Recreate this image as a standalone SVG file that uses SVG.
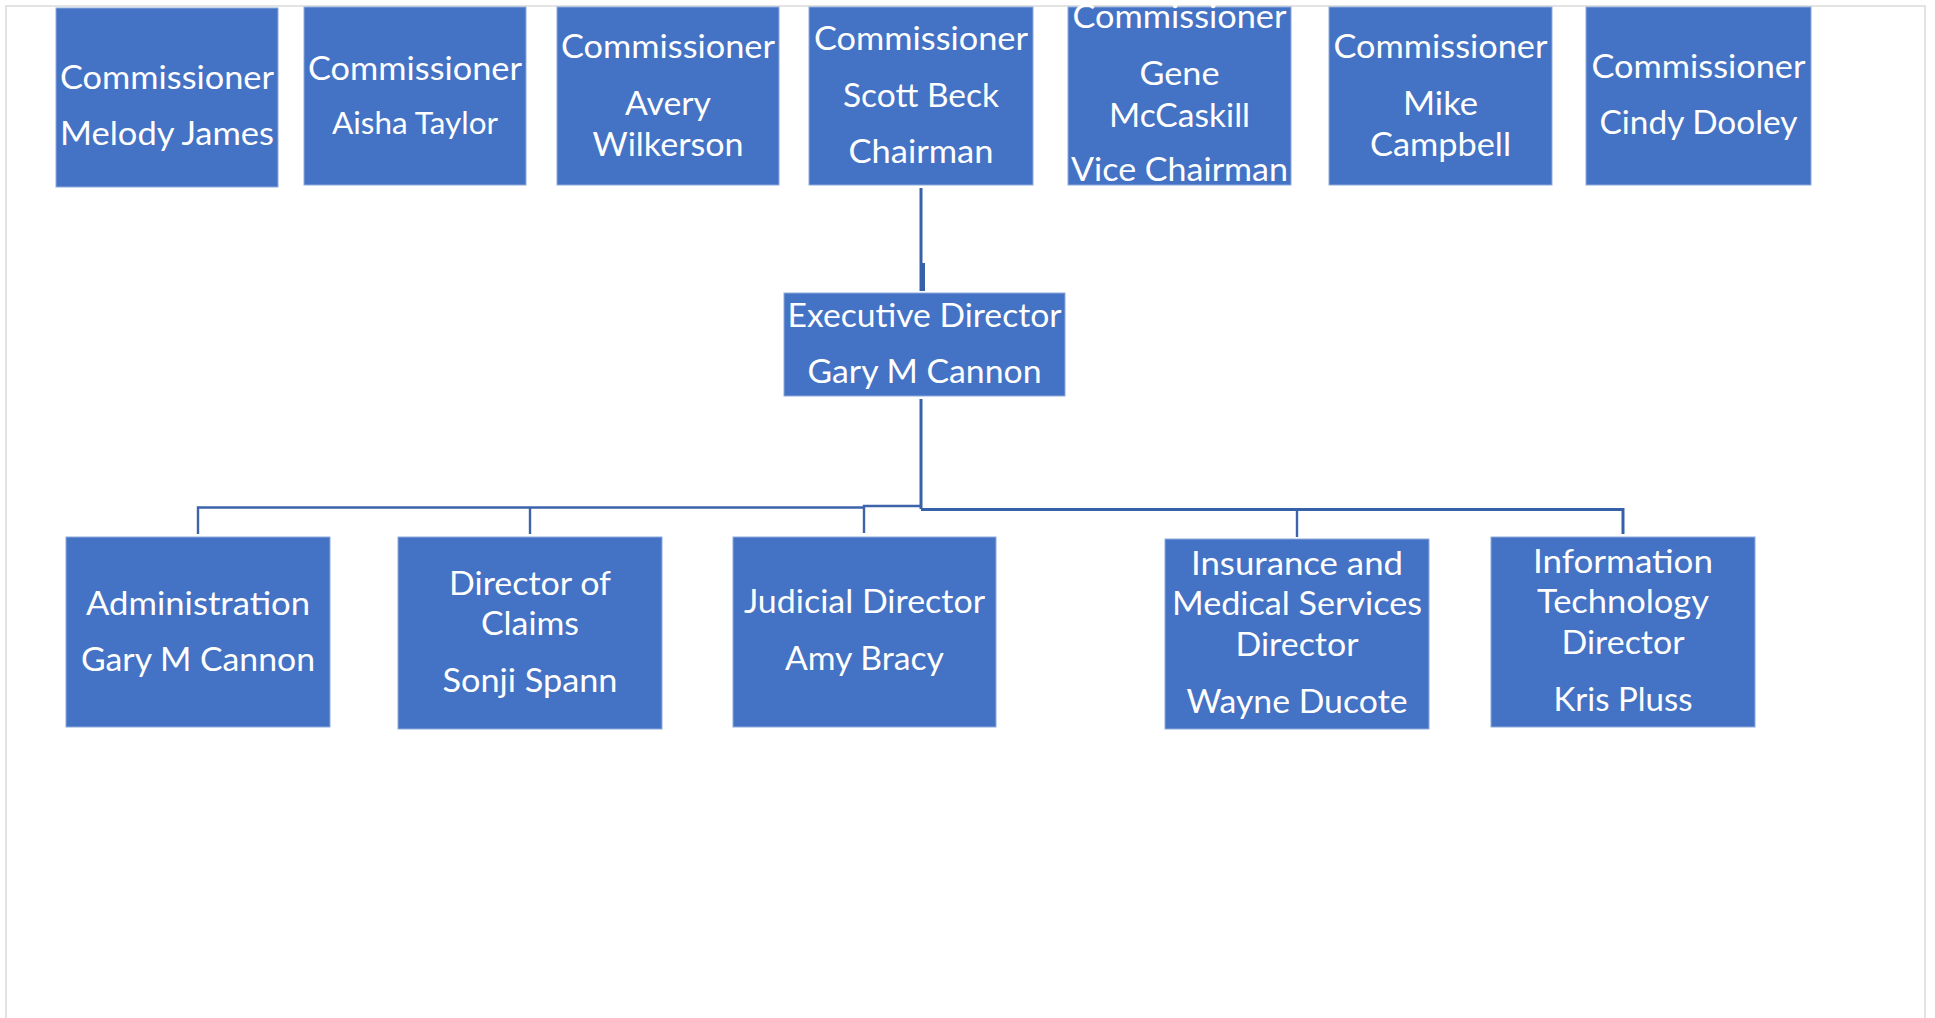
<svg xmlns="http://www.w3.org/2000/svg" width="1935" height="1018" viewBox="0 0 1935 1018">
  <style>
    .box { fill: #4472c4; stroke: #8eaadb; stroke-width: 1; }
    .lbl { fill: #ffffff; font-family: "Lato", "Open Sans", "Liberation Sans", sans-serif; font-size: 33px; text-anchor: middle; }
    .sm { font-size: 30px; }
    .wire { fill: none; stroke: #3660a8; stroke-width: 3; }
    .thin { stroke-width: 2.4; stroke: #3d64aa; }
    .frame { fill: #ffffff; stroke: #e3e3e3; stroke-width: 2; }
  </style>

  <!-- page frame -->
  <rect class="frame" x="6" y="6" width="1919" height="1040"/>

  <!-- reporting lines -->
  <g id="connectors">
    <path class="wire" d="M921 188 V291"/>
    <path class="wire" d="M923.5 263 V291"/>
    <path class="wire" d="M921 399 V509"/>
    <path class="wire thin" d="M198 534 V507.5 H864"/>
    <path class="wire thin" d="M530 534 V507.5"/>
    <path class="wire thin" d="M864 533 V506 H921"/>
    <path class="wire" d="M921 509.5 H1623 V534"/>
    <path class="wire thin" d="M1297 509.5 V537"/>
  </g>

  <!-- commissioners -->
  <g id="commissioner-james">
    <rect class="box" x="56" y="8" width="222" height="179"/>
    <text class="lbl" x="167" y="89" textLength="214" lengthAdjust="spacingAndGlyphs">Commissioner</text>
    <text class="lbl" x="167" y="145" textLength="214" lengthAdjust="spacingAndGlyphs">Melody James</text>
  </g>
  <g id="commissioner-taylor">
    <rect class="box" x="304" y="7" width="222" height="178"/>
    <text class="lbl" x="415" y="80" textLength="214" lengthAdjust="spacingAndGlyphs">Commissioner</text>
    <text class="lbl sm" x="415" y="134" textLength="166" lengthAdjust="spacingAndGlyphs">Aisha Taylor</text>
  </g>
  <g id="commissioner-wilkerson">
    <rect class="box" x="557" y="7" width="222" height="178"/>
    <text class="lbl" x="668" y="57.5" textLength="214" lengthAdjust="spacingAndGlyphs">Commissioner</text>
    <text class="lbl" x="668" y="115" textLength="86" lengthAdjust="spacingAndGlyphs">Avery</text>
    <text class="lbl" x="668" y="156" textLength="151" lengthAdjust="spacingAndGlyphs">Wilkerson</text>
  </g>
  <g id="commissioner-beck">
    <rect class="box" x="809" y="7" width="224" height="178"/>
    <text class="lbl" x="921" y="50" textLength="214" lengthAdjust="spacingAndGlyphs">Commissioner</text>
    <text class="lbl" x="921" y="107" textLength="156" lengthAdjust="spacingAndGlyphs">Scott Beck</text>
    <text class="lbl" x="921" y="163" textLength="145" lengthAdjust="spacingAndGlyphs">Chairman</text>
  </g>
  <g id="commissioner-mccaskill">
    <rect class="box" x="1068" y="7" width="223" height="178"/>
    <text class="lbl" x="1179.5" y="28" textLength="214" lengthAdjust="spacingAndGlyphs">Commissioner</text>
    <text class="lbl" x="1179.5" y="85" textLength="80" lengthAdjust="spacingAndGlyphs">Gene</text>
    <text class="lbl" x="1179.5" y="126.5" textLength="141" lengthAdjust="spacingAndGlyphs">McCaskill</text>
    <text class="lbl" x="1179.5" y="181" textLength="217" lengthAdjust="spacingAndGlyphs">Vice Chairman</text>
  </g>
  <g id="commissioner-campbell">
    <rect class="box" x="1329" y="7" width="223" height="178"/>
    <text class="lbl" x="1440.5" y="57.5" textLength="214" lengthAdjust="spacingAndGlyphs">Commissioner</text>
    <text class="lbl" x="1440.5" y="115" textLength="75" lengthAdjust="spacingAndGlyphs">Mike</text>
    <text class="lbl" x="1440.5" y="156" textLength="141" lengthAdjust="spacingAndGlyphs">Campbell</text>
  </g>
  <g id="commissioner-dooley">
    <rect class="box" x="1586" y="7" width="225" height="178"/>
    <text class="lbl" x="1698.5" y="78" textLength="214" lengthAdjust="spacingAndGlyphs">Commissioner</text>
    <text class="lbl" x="1698.5" y="134" textLength="198" lengthAdjust="spacingAndGlyphs">Cindy Dooley</text>
  </g>

  <!-- executive director -->
  <g id="executive-director">
    <rect class="box" x="784" y="293" width="281" height="103"/>
    <text class="lbl" x="924.5" y="327" textLength="274" lengthAdjust="spacingAndGlyphs">Executive Director</text>
    <text class="lbl" x="924.5" y="383" textLength="234" lengthAdjust="spacingAndGlyphs">Gary M Cannon</text>
  </g>

  <!-- departments -->
  <g id="administration">
    <rect class="box" x="66" y="537" width="264" height="190"/>
    <text class="lbl" x="198" y="615" textLength="224" lengthAdjust="spacingAndGlyphs">Administration</text>
    <text class="lbl" x="198" y="671" textLength="234" lengthAdjust="spacingAndGlyphs">Gary M Cannon</text>
  </g>
  <g id="claims">
    <rect class="box" x="398" y="537" width="264" height="192"/>
    <text class="lbl" x="530" y="595" textLength="162" lengthAdjust="spacingAndGlyphs">Director of</text>
    <text class="lbl" x="530" y="635" textLength="98" lengthAdjust="spacingAndGlyphs">Claims</text>
    <text class="lbl" x="530" y="692" textLength="175" lengthAdjust="spacingAndGlyphs">Sonji Spann</text>
  </g>
  <g id="judicial">
    <rect class="box" x="733" y="537" width="263" height="190"/>
    <text class="lbl" x="864.5" y="613" textLength="241" lengthAdjust="spacingAndGlyphs">Judicial Director</text>
    <text class="lbl" x="864.5" y="670" textLength="159" lengthAdjust="spacingAndGlyphs">Amy Bracy</text>
  </g>
  <g id="insurance-medical">
    <rect class="box" x="1165" y="539" width="264" height="190"/>
    <text class="lbl" x="1297" y="575" textLength="212" lengthAdjust="spacingAndGlyphs">Insurance and</text>
    <text class="lbl" x="1297" y="615" textLength="250" lengthAdjust="spacingAndGlyphs">Medical Services</text>
    <text class="lbl" x="1297" y="656" textLength="123" lengthAdjust="spacingAndGlyphs">Director</text>
    <text class="lbl" x="1297" y="713" textLength="221" lengthAdjust="spacingAndGlyphs">Wayne Ducote</text>
  </g>
  <g id="information-technology">
    <rect class="box" x="1491" y="537" width="264" height="190"/>
    <text class="lbl" x="1623" y="573" textLength="180" lengthAdjust="spacingAndGlyphs">Information</text>
    <text class="lbl" x="1623" y="613" textLength="172" lengthAdjust="spacingAndGlyphs">Technology</text>
    <text class="lbl" x="1623" y="654" textLength="123" lengthAdjust="spacingAndGlyphs">Director</text>
    <text class="lbl" x="1623" y="711" textLength="139" lengthAdjust="spacingAndGlyphs">Kris Pluss</text>
  </g>
</svg>
